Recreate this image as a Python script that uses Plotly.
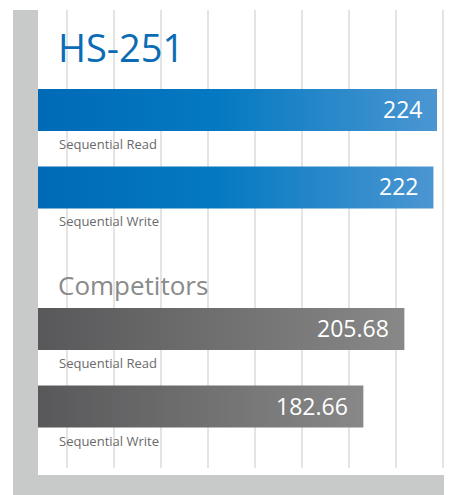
import plotly.graph_objects as go

# ---- data ----
groups = ["HS-251", "Competitors"]
metrics = ["Sequential Read", "Sequential Write"]
hs_values = [224, 222]
comp_values = [205.68, 182.66]
value_labels_hs = ["224", "222"]
value_labels_comp = ["205.68", "182.66"]

# page body has an 8px default margin; lay out in page pixels and shift
OFF = 8
W, H = 452 - OFF, 495 - OFF

PX_L, PX_R = 38, 452      # plot area page px (x)
PX_T, PX_B = 10, 468      # plot area page px (y)
PX_PER_UNIT = 399 / 224.0
x_max = (PX_R - PX_L) / PX_PER_UNIT

ROW_PX = 77.5
GROUP_GAP = 141.5 / ROW_PX
row_pos = [0, 1, 1 + GROUP_GAP, 2 + GROUP_GAP]
y_top = -(110 - PX_T) / ROW_PX
y_bot = row_pos[-1] + (PX_B - 406.5) / ROW_PX
HALF = 21 / ROW_PX


def pxx(px):
    return (px - OFF) / W


def py(px):
    return 1 - (px - OFF) / H


fig = go.Figure()

series = [
    (hs_values, value_labels_hs, row_pos[0:2], [[0, "#006ab6"], [0.45, "#0479c1"], [1, "#4b96d2"]]),
    (comp_values, value_labels_comp, row_pos[2:4], [[0, "#58585a"], [1, "#888888"]]),
]

annotations = []
for vals, labs, rows, cscale in series:
    for v, lab, r, m in zip(vals, labs, rows, metrics):
        fig.add_trace(go.Scatter(
            x=[0, v, v, 0, 0],
            y=[r - HALF, r - HALF, r + HALF, r + HALF, r - HALF],
            mode="lines", line=dict(width=0),
            fill="toself",
            fillgradient=dict(type="horizontal", colorscale=cscale),
            hoverinfo="skip", showlegend=False,
        ))
        annotations.append(dict(
            x=v, y=r, xref="x", yref="y", text=lab, showarrow=False,
            xanchor="right", yanchor="middle", xshift=-13, yshift=1,
            font=dict(family="Open Sans", size=23, color="white"),
        ))
        annotations.append(dict(
            x=0, y=r + HALF, xref="x", yref="y", text=m, showarrow=False,
            xanchor="left", yanchor="top", xshift=19, yshift=-2,
            font=dict(family="Open Sans", size=13, color="#6a6a6a"),
        ))

annotations.append(dict(
    x=pxx(56), y=py(47), xref="paper", yref="paper", text=groups[0],
    showarrow=False, xanchor="left", yanchor="middle",
    font=dict(family="Open Sans", size=38, color="#0b6cb5"),
))
annotations.append(dict(
    x=pxx(56), y=py(285), xref="paper", yref="paper", text=groups[1],
    showarrow=False, xanchor="left", yanchor="middle",
    font=dict(family="Open Sans", size=26, color="#8a8a8a"),
))

frame_col = "#c8c9c9"
shapes = [
    dict(type="rect", xref="paper", yref="paper", x0=pxx(13), x1=pxx(38),
         y0=0, y1=py(10), fillcolor=frame_col, line=dict(width=0), layer="below"),
    dict(type="rect", xref="paper", yref="paper", x0=pxx(13), x1=1,
         y0=0, y1=py(475), fillcolor=frame_col, line=dict(width=0), layer="below"),
]

fig.update_layout(
    width=W, height=H,
    margin=dict(l=0, r=0, t=0, b=0),
    paper_bgcolor="white", plot_bgcolor="white",
    showlegend=False,
    xaxis=dict(
        domain=[pxx(PX_L), pxx(PX_R)], range=[0, x_max],
        showgrid=True, gridcolor="#e4e4e4", gridwidth=1.5,
        tick0=(67 - PX_L) / PX_PER_UNIT, dtick=47 / PX_PER_UNIT,
        showticklabels=False, zeroline=False, showline=False, ticks="",
        fixedrange=True,
    ),
    yaxis=dict(
        domain=[py(PX_B), py(PX_T)], range=[y_bot, y_top],
        showgrid=False, showticklabels=False, zeroline=False, ticks="",
        fixedrange=True,
    ),
    annotations=annotations,
    shapes=shapes,
)

fig.write_html("out.html")
